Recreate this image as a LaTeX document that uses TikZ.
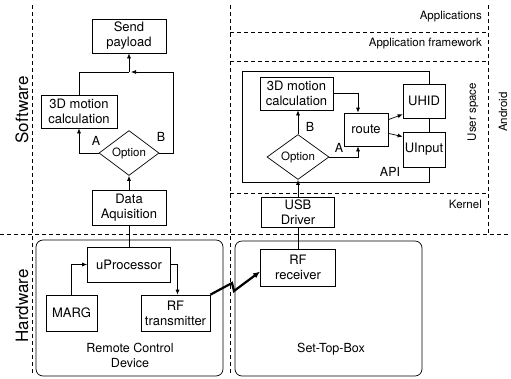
\documentclass[tikz,border=0pt]{standalone}
\usepackage{fontspec}
\setmainfont{TeX Gyre Heros}
\usetikzlibrary{shapes.geometric,arrows.meta}
\begin{document}
\begin{tikzpicture}[x=1pt,y=-1pt,
  box/.style={draw,fill=white,line width=0.7pt,inner sep=0pt,align=center,font=\fontsize{13}{15}\selectfont},
  dia/.style={draw,fill=white,diamond,line width=0.7pt,inner sep=0pt,font=\fontsize{11.5}{13}\selectfont},
  conn/.style={line width=0.7pt},
  arr/.style={conn,-{Latex[length=5pt,width=4pt]}},
  sep/.style={line width=0.7pt,dash pattern=on 4pt off 3pt},
  lbl/.style={font=\fontsize{12.5}{15}\selectfont,inner sep=0pt,align=center},
  small/.style={font=\fontsize{11.5}{13}\selectfont,inner sep=0pt},
  big/.style={font=\fontsize{17}{19}\selectfont,inner sep=0pt,rotate=90},
  container/.style={draw,line width=0.7pt,rounded corners=7pt,inner sep=0pt}]
\useasboundingbox (0,0) rectangle (511,378);

% separators
\draw[sep] (32,5) -- (32,375);
\draw[sep] (230,5) -- (230,375);
\draw[sep] (488,5) -- (488,234);
\draw[sep] (0,234) -- (511,234);
\draw[sep] (230,32) -- (488,32);
\draw[sep] (230,61) -- (488,61);
\draw[sep] (230,193) -- (488,193);

% region labels
\node[big] (sw) at (22,110) {Software};
\node[big] (hw) at (22,306) {Hardware};
\node[small,anchor=east] (apps) at (482,17) {Applications};
\node[small,anchor=east] (appfw) at (482,44) {Application framework};
\node[small,anchor=east] (kern) at (482,204) {Kernel};
\node[small,rotate=90] (us) at (473,112) {User space};
\node[small,rotate=90] (andr) at (503,112) {Android};

% containers
\node[container,minimum width=187pt,minimum height=136pt] (rcd) at (129.5,308) {};
\node[container,minimum width=187pt,minimum height=135pt] (stb) at (328.5,308.5) {};
\node[draw,line width=0.7pt,inner sep=0pt,minimum width=187pt,minimum height=111pt] (api) at (335.5,126.5) {};

% left software
\node[box,minimum width=74pt,minimum height=34pt] (send) at (129,36) {Send\\payload};
\node[box,minimum width=76pt,minimum height=33pt] (mot1) at (79,111.5) {3D motion\\calculation};
\node[dia,minimum width=60pt,minimum height=37pt] (opt1) at (129,153) {Option};
\node[box,minimum width=74pt,minimum height=35pt] (daq) at (129,207.5) {Data\\Aquisition};
\coordinate (j1) at (129,72);
\coordinate (jr) at (173,72);
\node[lbl] (la1) at (96,141) {A};
\node[lbl] (lb1) at (161,137) {B};

\draw[arr] (daq.north) -- (opt1.south);
\draw[arr] (opt1.west) -| (mot1.south);
\draw[conn] (mot1.north) |- (j1);
\draw[arr] (opt1.east) -| (jr) -- ([xshift=2pt]j1);
\draw[arr] (j1) -- (send.south);

% left hardware
\node[box,minimum width=83pt,minimum height=35pt] (uproc) at (129,264.5) {uProcessor};
\node[box,minimum width=51pt,minimum height=36pt] (marg) at (71.5,313) {MARG};
\node[box,minimum width=69pt,minimum height=36pt] (rft) at (175.5,313) {RF\\transmitter};
\node[lbl] (rcdl) at (130,355) {Remote Control\\Device};

\draw[conn] (daq.south) -- (uproc.north);
\draw[arr] (marg.north) |- (uproc.west);
\draw[arr] (uproc.east) -| ([xshift=2pt]rft.north);

% right software
\node[box,minimum width=73pt,minimum height=33pt] (mot2) at (296.5,93.5) {3D motion\\calculation};
\node[box,minimum width=44pt,minimum height=33pt] (route) at (366,129.5) {route};
\node[box,minimum width=42pt,minimum height=34pt] (uhid) at (424,101) {UHID};
\node[box,minimum width=42pt,minimum height=35pt] (uinput) at (424,149.5) {UInput};
\node[dia,minimum width=62pt,minimum height=39pt] (opt2) at (298,157) {Option};
\node[box,minimum width=73pt,minimum height=30pt] (usb) at (298,212) {USB\\Driver};
\node[lbl] (lb2) at (310,127) {B};
\node[lbl] (la2) at (339,148) {A};
\node[lbl] (apil) at (390,172) {API};

\draw[arr] (usb.north) -- (opt2.south);
\draw[arr] (opt2.north) -- (opt2.north |- mot2.south);
\draw[arr] (opt2.east) -| ([xshift=-8pt]route.south);
\draw[arr] (mot2.east) -| ([xshift=-8pt]route.north);
\draw[arr] ([yshift=-7pt]route.north east) -- ([yshift=4pt]uhid.south west);
\draw[arr] ([yshift=13pt]route.south east) -- ([yshift=-5pt]uinput.north west);

% right hardware
\node[box,minimum width=75pt,minimum height=37pt] (rfr) at (298,267.5) {RF\\receiver};
\node[lbl] (stbl) at (331,349) {Set-Top-Box};
\draw[conn] (usb.south) -- (rfr.north);

% wireless link
\coordinate (z1) at (232,283);
\coordinate (z2) at (234,291);
\draw[line width=2.2pt,-{Latex[length=7pt,width=6pt]}] (rft.north east) -- (z1) -- (z2) -- ([yshift=-4pt]rfr.west);
\end{tikzpicture}
\end{document}
